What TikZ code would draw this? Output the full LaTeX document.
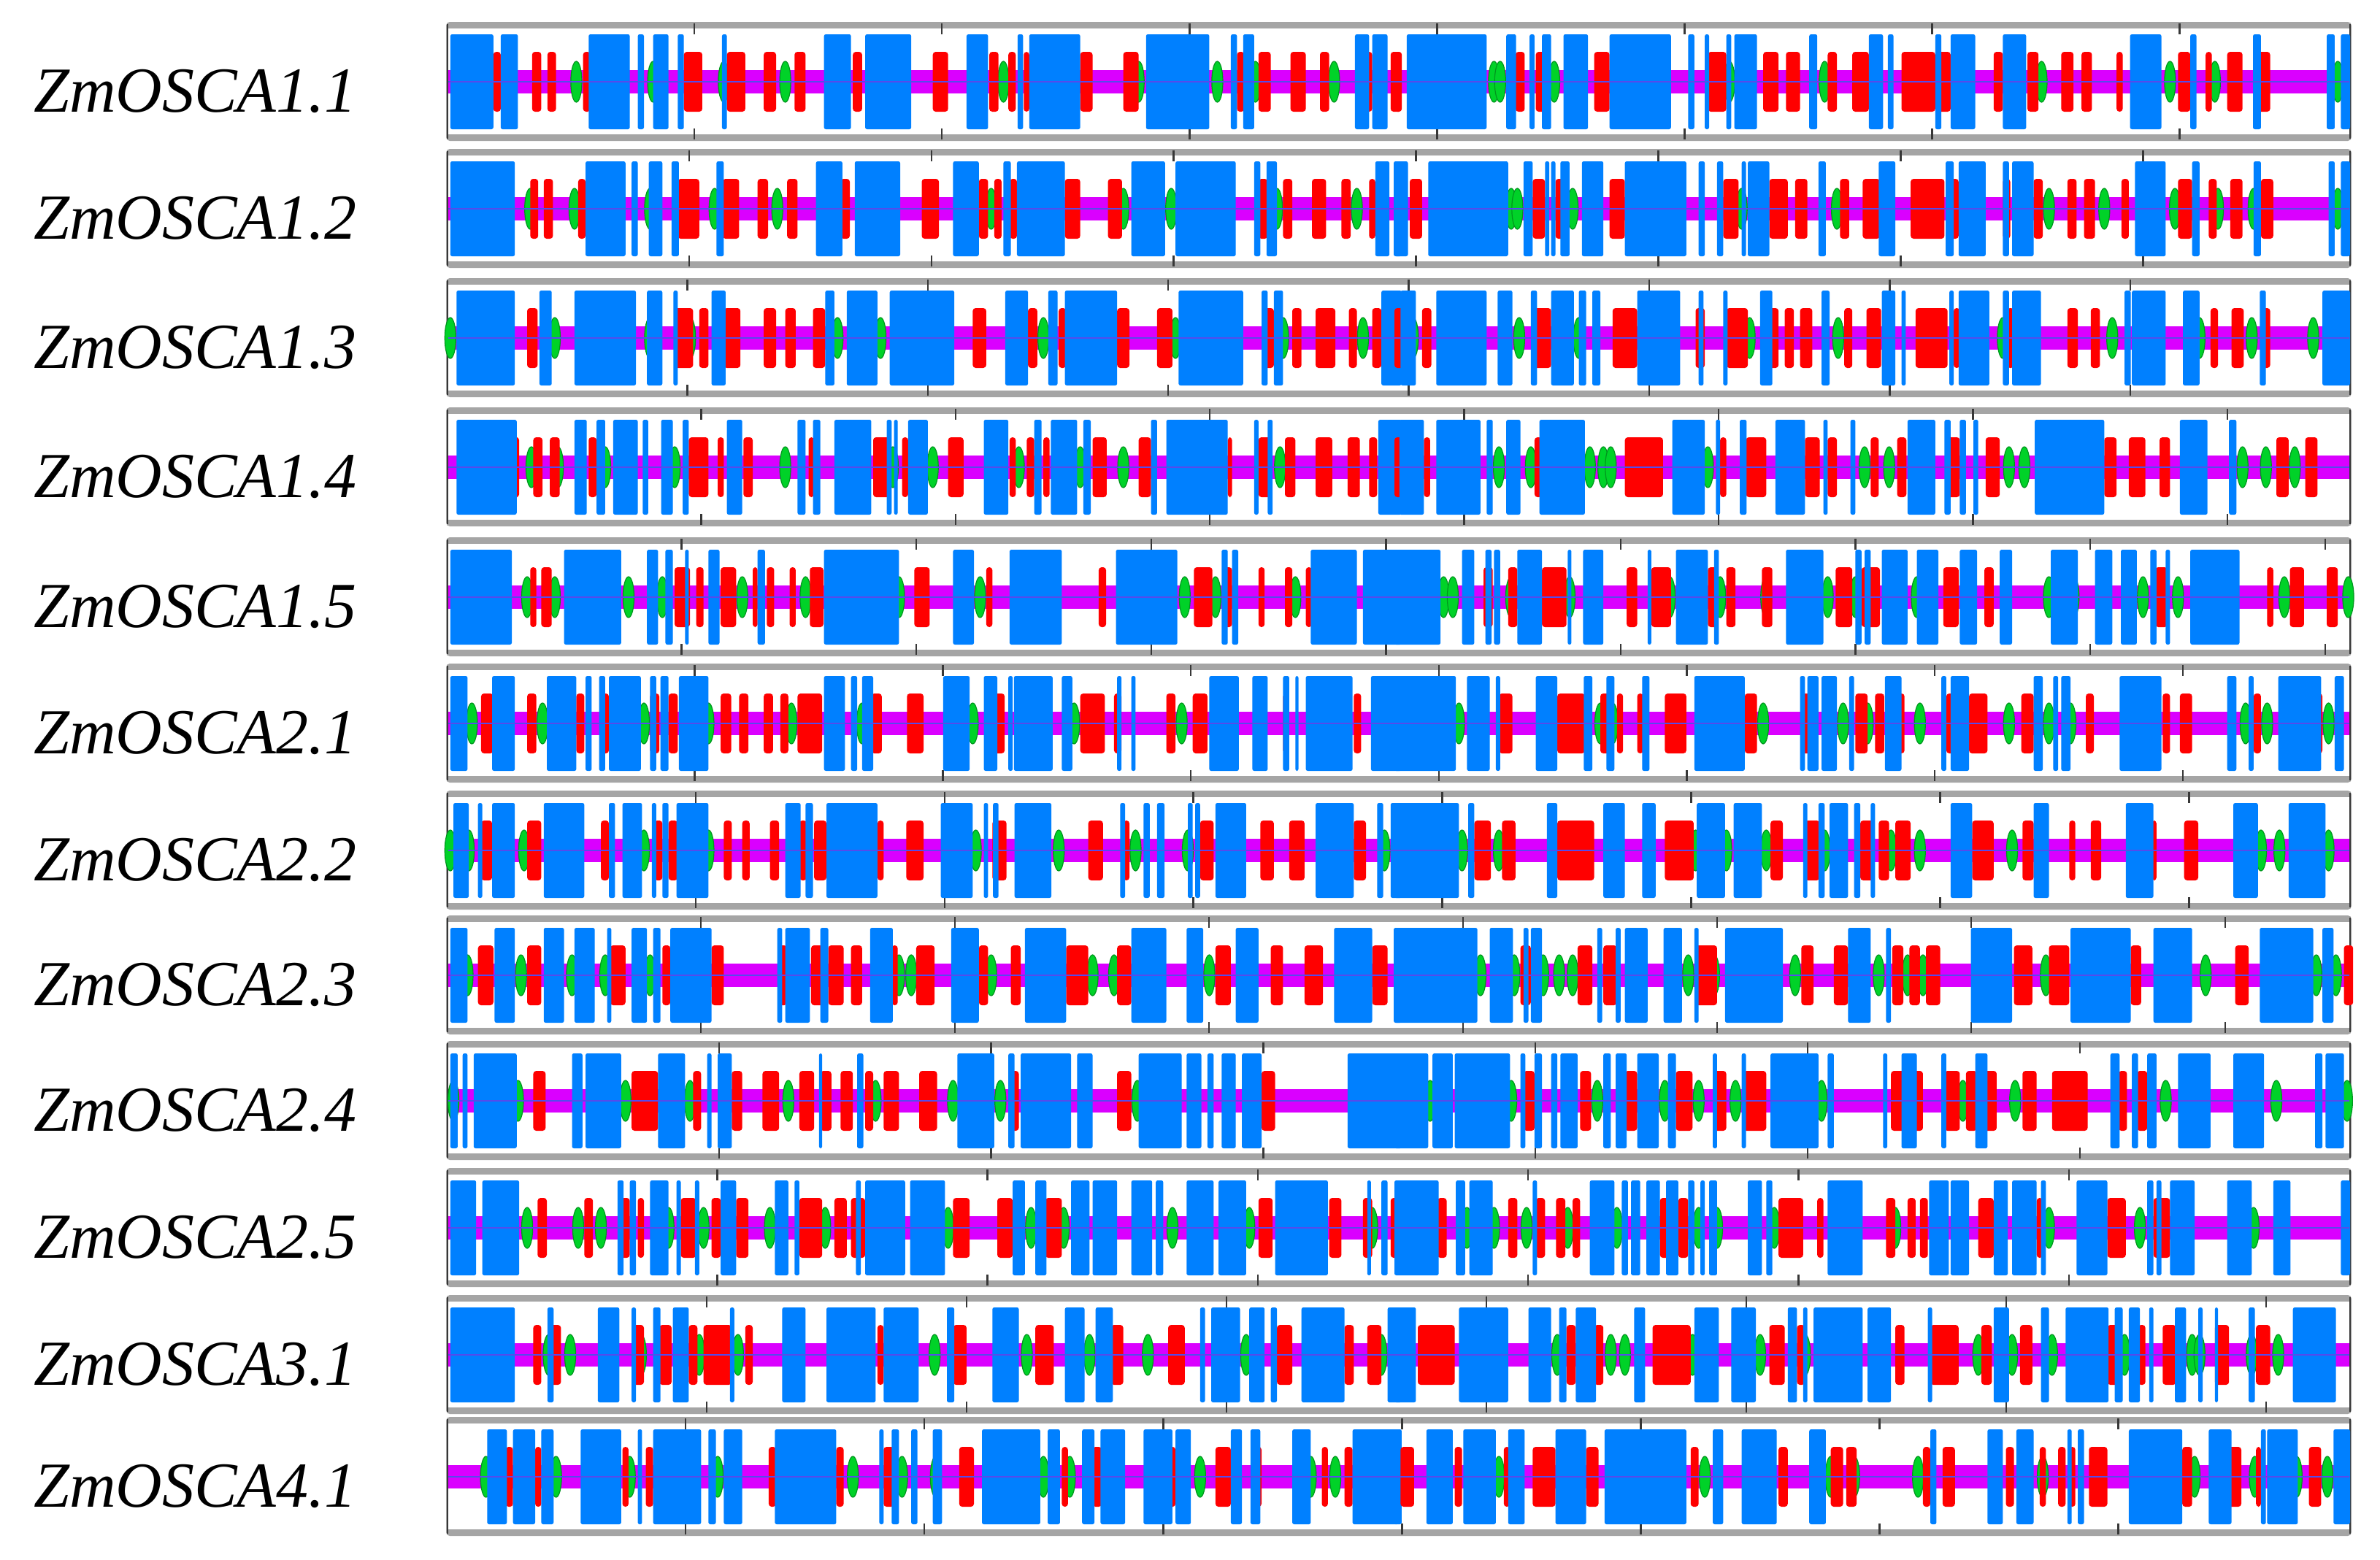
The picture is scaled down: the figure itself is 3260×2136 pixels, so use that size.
\documentclass[tikz,border=0pt]{standalone}
\usepackage{fontspec}
\setmainfont{Liberation Serif}
\definecolor{helc}{RGB}{0,128,255}
\definecolor{strc}{RGB}{255,0,0}
\definecolor{grnc}{RGB}{0,210,40}
\definecolor{grnd}{RGB}{0,150,30}
\definecolor{magc}{RGB}{218,0,255}
\definecolor{linc}{RGB}{85,75,235}
\definecolor{frmc}{RGB}{165,165,165}
\definecolor{tkc}{RGB}{55,55,55}
\tikzset{
  hel/.style={fill=helc,rounded corners=2.5},
  strd/.style={fill=strc,rounded corners=4},
  grn/.style={fill=grnc,draw=grnd,line width=1.2},
  lab/.style={font=\fontsize{88}{100}\selectfont\itshape,inner sep=0pt,anchor=base west},
  tk/.style={draw=tkc,line width=2.5}
}
% #1 centre, #2 tick spacing, #3 ticks, #4-#6 left green/red/blue, #7-#9 right
\newcommand\SsRow[9]{%
  \fill[frmc,rounded corners=5] (611,#1-82) rectangle (3221,#1+81);
  \fill[white] (614,#1-73) rectangle (3218,#1+72);
  \draw[tkc,line width=2.5] (613,#1-79) -- (613,#1+78);
  \draw[tkc,line width=2.5] (3219,#1-79) -- (3219,#1+78);
  \foreach \k in {1,...,#3}{
    \draw[tk] ({612+\k*#2},#1-80) -- ++(0,15);
    \draw[tk] ({612+\k*#2},#1+79) -- ++(0,-15);
  }
  \fill[magc] (614,#1-16) rectangle (3218,#1+16);
  \begin{scope}[shift={(600,#1)},xscale=0.8418]
    \foreach \g in {#4}{\filldraw[grn] (\g,0) ellipse [x radius=9, y radius=28];}
    \foreach \a/\b in {#5}{\fill[strd] (\a,-41) rectangle (\b,41);}
    \foreach \a/\b in {#6}{\fill[hel] (\a,-65) rectangle (\b,65);}
  \end{scope}
  \begin{scope}[shift={(1910,#1)},xscale=0.8418]
    \foreach \g in {#7}{\filldraw[grn] (\g,0) ellipse [x radius=9, y radius=28];}
    \foreach \a/\b in {#8}{\fill[strd] (\a,-41) rectangle (\b,41);}
    \foreach \a/\b in {#9}{\fill[hel] (\a,-65) rectangle (\b,65);}
  \end{scope}
  \draw[linc,line width=2.5] (614,#1) -- (3218,#1);
}
\begin{document}
\begin{tikzpicture}[x=1pt,y=-1pt]
\useasboundingbox[fill=white] (0,0) rectangle (3260,2136);

\node[lab] (l1) at (46,153) {ZmOSCA1.1};
\node[lab] (l2) at (46,327) {ZmOSCA1.2};
\node[lab] (l3) at (46,504) {ZmOSCA1.3};
\node[lab] (l4) at (46,681) {ZmOSCA1.4};
\node[lab] (l5) at (46,859) {ZmOSCA1.5};
\node[lab] (l6) at (46,1032) {ZmOSCA2.1};
\node[lab] (l7) at (46,1206) {ZmOSCA2.2};
\node[lab] (l8) at (46,1377) {ZmOSCA2.3};
\node[lab] (l9) at (46,1549) {ZmOSCA2.4};
\node[lab] (l10) at (46,1723) {ZmOSCA2.5};
\node[lab] (l11) at (46,1897) {ZmOSCA3.1};
\node[lab] (l12) at (46,2064) {ZmOSCA4.1};

% Row 1
\SsRow{112}{339.1}{7}
{225,350,465,565,920,1140,1268,1330,1458}
{90/102,153/168,178/192,236/248,400/430,470/500,530/550,580/598,675/690,805/830,897/912,928/940,953/962,1045/1065,1115/1140,1300/1312,1335/1355,1387/1412,1435/1450,1505/1520,1550/1568}
{20/90,102/130,245/312,325/335,350/375,390/400,462/470,628/672,695/770,860/895,943/952,962/1045,1152/1255,1290/1300,1310/1328,1492/1515,1520/1545}
{162,172,260,545,700,1053,1262,1335,1535}
{0/12,197/212,230/245,325/350,510/540,600/625,637/660,705/720,745/772,825/880,885/905,975/990,1030/1048,1085/1105,1118/1135,1175/1185,1275/1295,1320/1330,1355/1380,1405/1425}
{20/150,182/198,220/228,240/255,275/315,350/450,478/488,505/512,540/548,553/590,675/688,772/795,803/812,880/890,905/945,990/1028,1197/1248,1295/1305,1397/1410,1517/1530,1540/1555}

% Row 2
\SsRow{286}{331.9}{7}
{150,222,345,450,552,900,1115,1193,1365,1495}
{150/163,172/187,228/240,390/425,463/490,520/537,568/585,655/670,787/815,880/895,905/917,930/942,1020/1045,1090/1113,1335/1350,1375/1390,1422/1445,1470/1485,1515/1525}
{20/125,240/305,315/325,343/365,380/392,453/465,615/658,678/752,838/880,920/932,942/1020,1128/1183,1200/1298,1328/1338,1348/1365,1525/1548,1555/1568}
{190,200,290,565,720,1065,1155,1270,1340,1398,1535}
{25/45,225/245,262/275,350/375,535/560,610/640,652/672,725/740,762/790,840/895,900/918,990/1002,1040/1055,1095/1110,1122/1140,1183/1195,1275/1298,1325/1338,1360/1380,1410/1430}
{0/22,55/185,210/225,245/252,255/262,270/285,305/340,375/475,495/505,525/535,565/572,575/610,690/702,788/815,897/910,918/962,990/1000,1005/1040,1205/1255,1298/1310,1398/1410,1520/1530,1540/1555}

% Row 3
\SsRow{463}{329.4}{7}
{20,190,345,410,650,720,985,1200,1375,1440,1505}
{145/162,385/415,425/440,465/492,530/550,565/582,610/630,870/892,960/975,1010/1022,1105/1125,1170/1195,1345/1360,1390/1405,1428/1460,1482/1495,1520/1535}
{30/125,165/185,222/322,340/365,383/390,445/468,630/645,665/715,735/840,923/960,993/1008,1020/1105,1205/1310,1340/1350,1360/1375,1535/1568}
{30,203,300,578,722,990,1168,1310,1395,1495}
{0/18,45/60,225/255,355/395,490/505,540/575,610/625,635/650,660/680,732/745,768/792,848/900,910/920,997/1008,1095/1112,1133/1148,1328/1340,1362/1382,1410/1425}
{10/35,68/150,168/192,222/232,255/292,300/312,322/335,395/465,495/503,535/542,595/615,695/708,793/815,825/832,903/910,918/968,990/1000,1005/1052,1188/1198,1200/1255,1283/1310,1408/1418,1510/1555}

% Row 4
\SsRow{640}{348.4}{7}
{152,195,272,385,565,740,805,945,1045,1115,1370}
{125/132,155/170,182/198,245/258,408/440,455/465,497/512,603/612,708/737,755/765,830/855,930/940,958/970,985/995,1065/1088,1140/1160,1285/1292,1335/1355,1378/1395,1428/1455,1480/1500,1515/1528}
{30/128,222/242,258/272,285/325,333/342,363/382,398/408,470/495,585/598,610/622,645/705,730/738,742/748,765/797,888/928,970/982,997/1040,1050/1062,1160/1170,1185/1285,1328/1335,1350/1358,1530/1568}
{170,222,318,340,352,510,765,805,1000,1025,1380,1418,1465}
{0/12,48/58,228/240,375/437,530/540,572/605,668/692,705/720,775/788,818/833,898/920,962/985,1155/1175,1195/1222,1245/1262,1435/1455,1482/1502}
{8/48,68/140,150/160,182/205,236/310,452/505,523/530,562/573,620/668,698/705,742/750,835/880,895/905,920/930,942/950,1042/1155,1278/1323,1358/1370}

% Row 5
\SsRow{818}{321.6}{8}
{145,190,310,365,495,598,750,882,1215,1265,1395}
{150/160,168/185,385/410,420/432,460/485,512/520,535/547,572/582,605/627,775/800,892/902,1075/1087,1230/1260,1280/1292,1335/1345,1378/1390,1412/1422}
{20/120,205/298,340/358,370/382,402/408,440/458,520/532,628/750,838/872,930/1015,1103/1203,1275/1285,1292/1302,1420/1495,1505/1568}
{80,95,190,285,448,530,605,705,750,850,1065,1105,1218,1275,1448,1552}
{145/160,185/200,240/280,378/395,418/450,510/525,540/555,598/615,718/745,760/790,893/918,960/975,1238/1258,1420/1430,1457/1480,1517/1535}
{0/75,110/130,148/158,162/172,200/240,282/288,307/340,412/418,458/510,520/528,637/698,750/760,765/775,793/835,850/885,920/948,985/1005,1068/1112,1140/1168,1182/1208,1230/1240,1255/1262,1295/1375}

% Row 6
\SsRow{991}{339.7}{7}
{55,170,335,440,575,690,870,1035,1210}
{70/90,145/160,225/238,265/278,345/360,375/390,460/477,490/505,530/545,557/570,585/625,705/722,763/790,905/922,1045/1085,1100/1112,1185/1200,1228/1252,1375/1385,1490/1502}
{20/48,88/125,177/225,240/250,262/272,278/330,345/355,362/375,392/440,628/662,672/682,690/708,822/865,888/910,928/935,937/1000,1015/1032,1105/1112,1128/1135,1255/1303,1325/1350,1375/1385,1395/1400,1412/1488,1518/1568}
{105,335,355,600,730,770,855,1000,1065,1100,1385,1420,1520}
{170/192,265/310,335/350,362/372,395/405,440/475,570/590,662/682,750/770,782/797,820/830,898/910,935/965,1020/1040,1125/1138,1250/1262,1278/1298,1398/1410,1498/1510}
{0/100,118/155,165/172,230/265,308/322,345/358,403/415,488/570,660/668,672/690,695/720,740/748,798/825,890/898,905/935,1040/1055,1072/1080,1085/1100,1180/1248,1355/1370,1390/1398,1438/1508,1530/1545}

% Row 7
\SsRow{1165}{340.9}{7}
{20,50,140,335,440,875,1010,1135,1220,1540}
{70/88,145/168,265/278,352/365,375/390,465/478,495/507,540/555,588/600,612/632,715/725,762/790,902/925,1058/1082,1115/1125,1240/1262,1338/1360,1385/1410,1490/1510}
{25/50,65/72,88/125,172/238,278/288,300/332,348/355,365/375,388/440,565/590,598/610,632/715,818/870,888/895,903/912,938/998,1110/1118,1148/1158,1170/1182,1220/1228,1232/1240,1265/1315,1428/1490,1528/1538,1550/1568}
{110,170,490,540,605,700,808,855,1005,1410,1440,1520}
{130/157,175/197,265/325,440/487,612/632,668/692,758/780,788/805,815/840,940/975,1022/1040,1098/1108,1133/1150,1233/1240,1285/1308}
{0/105,120/130,248/265,340/375,403/425,492/538,552/598,665/672,690/700,708/738,748/758,775/782,905/940,1040/1065,1190/1235,1365/1405,1455/1515}

% Row 8
\SsRow{1336}{348}{7}
{48,135,218,272,345,750,770,900,1065,1100,1255}
{65/90,145/168,280/305,365/378,445/465,555/568,607/630,635/660,672/690,738/748,778/808,880/895,932/948,1022/1058,1105/1128,1265/1290,1355/1375,1410/1440,1520/1545}
{20/48,92/125,172/205,222/255,275/282,315/340,350/362,378/445,552/560,565/605,622/635,703/740,835/880,955/1022,1128/1185,1218/1245,1298/1335,1458/1520,1555/1568}
{140,195,242,268,290,478,520,652,788,835,860,1060,1320,1500,1532}
{205/222,298/322,340/362,490/525,662/682,715/738,810/828,838/855,865/888,1008/1038,1065/1098,1198/1215,1368/1390,1545/1560}
{0/135,155/193,210/218,222/240,330/338,360/368,375/412,438/468,488/495,538/632,738/775,800/808,938/1005,1100/1198,1235/1298,1408/1495,1510/1528}

% Row 9
\SsRow{1508}{372.8}{6}
{25,130,305,410,570,712,838,915,1138}
{155/175,315/358,415/428,478/495,528/555,588/612,622/640,655/675,695/708,725/750,783/812,850/860,930/945,1105/1128,1340/1362}
{20/32,40/48,58/128,218/235,240/298,358/402,438/445,455/478,620/625,682/692,845/905,928/938,948/1030,1040/1065,1140/1210,1218/1242,1252/1262,1275/1298,1308/1340,1480/1568}
{58,190,330,440,495,555,695,925,1010,1255,1435,1550}
{210/228,302/320,375/395,458/485,520/540,568/605,808/860,895/920,930/948,960/980,1022/1045,1070/1128,1178/1192,1208/1225}
{0/55,62/95,98/188,205/213,228/240,255/265,270/298,340/352,360/378,395/430,445/458,518/525,565/572,612/690,705/715,795/802,825/850,890/898,945/965,1165/1180,1200/1210,1225/1240,1275/1328,1365/1415,1498/1510,1515/1545}

% Row 10
\SsRow{1682}{370.3}{6}
{145,228,265,375,432,540,630,830,965,1018,1195,1320,1520}
{162/177,238/252,298/312,325/335,395/420,445/460,485/505,588/625,645/665,672/695,838/865,910/935,988/1015,1335/1358,1450/1470,1505/1520,1550/1568}
{20/62,72/132,292/302,312/322,345/375,388/395,418/425,460/485,548/570,580/588,680/688,695/760,768/825,935/955,972/990,1030/1060,1065/1105,1128/1162,1168/1180,1218/1262,1270/1315,1362/1448,1512/1518,1535/1545}
{118,162,215,282,362,495,525,618,815,1065,1213,1398}
{70/85,185/200,230/245,263/278,290/302,432/448,462/478,625/665,688/698,800/815,835/848,855/868,950/975,1045/1055,1160/1190,1235/1262}
{0/72,100/115,122/160,225/232,318/358,370/380,385/400,410/432,442/462,478/488,498/505,512/525,575/598,605/615,705/762,870/902,905/935,975/998,1005/1045,1052/1060,1110/1160,1225/1235,1240/1248,1262/1302,1355/1395,1430/1458,1540/1555}

% Row 11
\SsRow{1856}{356}{7}
{180,215,330,425,488,808,958,1060,1155,1315,1535}
{155/168,182/200,318/335,360/380,408/422,432/478,500/512,715/725,838/860,972/1002,1095/1115,1188/1215,1365/1390,1475/1490,1512/1535}
{20/125,178/188,260/295,315/322,350/362,382/408,475/482,560/598,632/712,725/782,828/840,902/945,1020/1052,1070/1098,1240/1248,1258/1305,1320/1345,1355/1365,1405/1475,1545/1568}
{265,352,375,485,595,668,950,1005,1070,1188,1275,1298,1310,1395,1438}
{38/98,280/295,325/340,420/482,610/635,655/668,815/830,872/918,955/972,1018/1038,1160/1178,1210/1222,1250/1272,1335/1358,1402/1425}
{0/35,105/185,218/255,268/280,295/328,390/408,488/528,548/588,640/655,665/672,682/762,770/808,868/875,975/1000,1052/1065,1092/1162,1172/1185,1195/1213,1228/1235,1270/1288,1308/1315,1335/1340,1390/1400,1462/1532}

% Row 12
\SsRow{2023}{327.1}{7}
{78,192,312,455,675,755,810,985,1028,1240,1420,1460}
{110/122,158/168,300/310,338/350,538/550,648/660,725/742,848/872,1015/1025,1065/1080,1192/1200,1265/1290,1328/1340,1438/1448,1475/1488}
{80/112,122/158,168/188,232/298,325/332,350/428,440/452,465/495,548/648,718/725,738/750,770/780,805/820,885/980,992/1012,1048/1068,1078/1118,1148/1195,1200/1225,1290/1308,1322/1338,1390/1420,1488/1568}
{170,505,710,748,852,1055,1230,1302,1400,1468,1518}
{10/32,98/110,178/188,225/262,312/332,482/495,625/640,710/730,735/752,860/872,892/912,995/1008,1050/1060,1080/1092,1098/1108,1130/1160,1282/1298,1350/1378,1402/1410,1488/1508}
{0/5,52/95,112/165,185/212,262/312,342/475,518/535,565/622,675/702,872/882,965/990,1012/1040,1095/1102,1112/1122,1195/1282,1325/1362,1410/1418,1420/1470,1528/1555}

\end{tikzpicture}
\end{document}
